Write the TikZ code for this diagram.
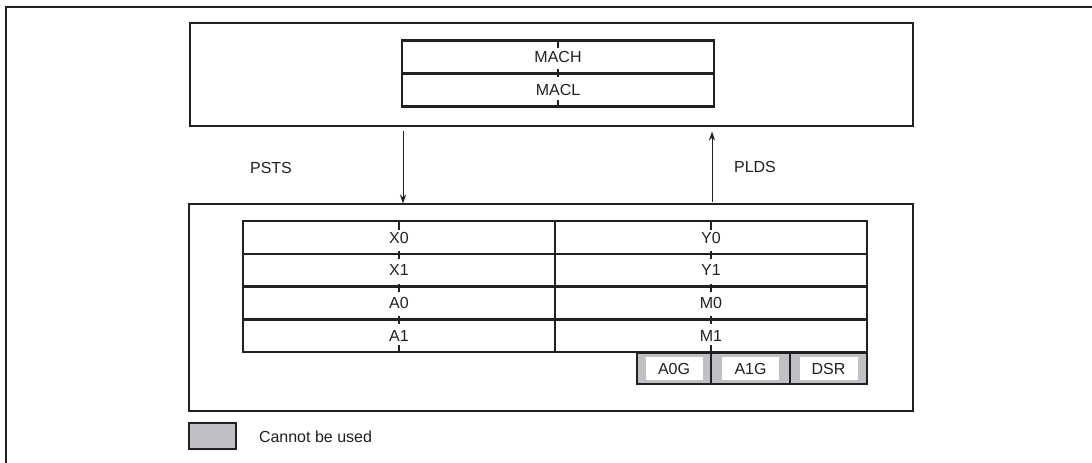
\documentclass[tikz,border=0pt]{standalone}
\usepackage{fontspec}
\setmainfont{Liberation Sans}
\usetikzlibrary{arrows.meta}
\definecolor{ink}{RGB}{35,31,32}
\definecolor{cbgray}{RGB}{190,192,196}
\begin{document}
\begin{tikzpicture}[x=1pt,y=-1pt, line join=miter,
  every node/.style={font=\fontsize{16}{19}\selectfont, text=ink, inner sep=0pt, outer sep=0pt},
  frame/.style={draw=ink, line width=2.6pt},
  box/.style={draw=ink, line width=2.4pt},
  regcell/.style={draw=ink, line width=2.4pt, minimum width=312pt, minimum height=32.75pt},
  tickmark/.style={draw=ink, line width=2.8pt},
  flow/.style={draw=ink, line width=1pt, -{Stealth[length=9pt,width=6pt]}},
  graycell/.style={draw=ink, line width=2.4pt, fill=cbgray, minimum height=31pt},
  whitelabel/.style={fill=white, minimum width=57pt, minimum height=23pt}]
\useasboundingbox (0,0) rectangle (1092,463);
% outer frame
\draw[frame] (6,463) -- (6,7) -- (1092,7);
% upper box
\node[box, minimum width=723pt, minimum height=103pt] (upper) at (551.5,74.5) {};
\node[regcell] (mach) at (558,57) {MACH};
\node[regcell] (macl) at (558,90) {MACL};
\foreach \y/\a/\b in {41/41/48, 73/69/77, 107/100/107}
  \draw[tickmark] (558,\a) -- (558,\b);
% lower box
\node[box, minimum width=724pt, minimum height=207pt] (lower) at (551,307.5) {};
\node[regcell] (x0) at (399,237.6) {X0};
\node[regcell] (x1) at (399,270.3) {X1};
\node[regcell] (a0) at (399,303.1) {A0};
\node[regcell] (a1) at (399,335.8) {A1};
\node[regcell] (y0) at (711,237.6) {Y0};
\node[regcell] (y1) at (711,270.3) {Y1};
\node[regcell] (m0) at (711,303.1) {M0};
\node[regcell] (m1) at (711,335.8) {M1};
\foreach \x in {399,711}{
  \draw[tickmark] (\x,222) -- (\x,230);
  \foreach \y in {254.75,287.5,320.25}
    \draw[tickmark] (\x,\y-4) -- (\x,\y+4);
  \draw[tickmark] (\x,345) -- (\x,353);
}
% unusable registers
\node[graycell, minimum width=74pt] (a0g) at (674,368.5) {};
\node[graycell, minimum width=79pt] (a1g) at (750.5,368.5) {};
\node[graycell, minimum width=77pt] (dsr) at (828.5,368.5) {};
\node[whitelabel] at (a0g) {A0G};
\node[whitelabel] at (a1g) {A1G};
\node[whitelabel, minimum width=58pt] at (dsr) {DSR};
% transfers
\coordinate (pstsA) at (403,131);
\coordinate (pstsB) at (403,203.5);
\coordinate (pldsA) at (712,201.5);
\coordinate (pldsB) at (712,131.5);
\draw[flow] (pstsA) -- (pstsB);
\draw[flow] (pldsA) -- (pldsB);
\node (psts) at (271,167.5) {PSTS};
\node (plds) at (755,166.5) {PLDS};
% legend
\node[draw=ink, line width=2.4pt, fill=cbgray, minimum width=47pt, minimum height=26pt] (legbox) at (212.5,436) {};
\node[anchor=west] (legtext) at (259,436.5) {Cannot be used};
\end{tikzpicture}
\end{document}
